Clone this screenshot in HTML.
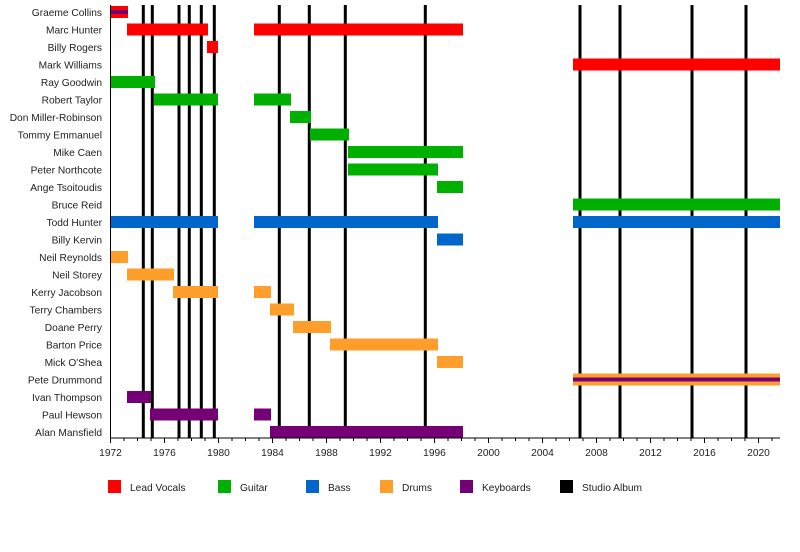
<!DOCTYPE html><html><head><style>body{margin:0;background:#fff}text{font-family:"Liberation Sans",sans-serif;font-size:10.2px;fill:#222}</style></head><body>
<svg width="800" height="547" xmlns="http://www.w3.org/2000/svg">
<g id="lines" fill="#000"></g><g id="bars"></g><g id="ax"></g>
</svg>
<script>
const X=y=>110.5+(y-1972)*13.5;
const C={r:"#ff0000",g:"#00b000",b:"#0066cc",o:"#ff9e2a",p:"#750075"};
const rows=[["Graeme Collins",[[110,128,"r","p"]]],["Marc Hunter",[[127,208,"r"],[254,463,"r"]]],["Billy Rogers",[[207,218,"r"]]],["Mark Williams",[[573,780,"r"]]],["Ray Goodwin",[[110,155,"g"]]],["Robert Taylor",[[154,218,"g"],[254,291,"g"]]],["Don Miller-Robinson",[[290,311,"g"]]],["Tommy Emmanuel",[[310,349,"g"]]],["Mike Caen",[[348,463,"g"]]],["Peter Northcote",[[348,438,"g"]]],["Ange Tsoitoudis",[[437,463,"g"]]],["Bruce Reid",[[573,780,"g"]]],["Todd Hunter",[[110,218,"b"],[254,438,"b"],[573,780,"b"]]],["Billy Kervin",[[437,463,"b"]]],["Neil Reynolds",[[110,128,"o"]]],["Neil Storey",[[127,174,"o"]]],["Kerry Jacobson",[[173,218,"o"],[254,271,"o"]]],["Terry Chambers",[[270,294,"o"]]],["Doane Perry",[[293,331,"o"]]],["Barton Price",[[330,438,"o"]]],["Mick O'Shea",[[437,463,"o"]]],["Pete Drummond",[[573,780,"o","p"]]],["Ivan Thompson",[[127,151,"p"]]],["Paul Hewson",[[150,218,"p"],[254,271,"p"]]],["Alan Mansfield",[[270,463,"p"]]]];
let L="",B="",A="";
[143.3,152.3,179,189.3,201.3,214.3,279.3,309.3,345.3,425.3,580,620,692,746].forEach(x=>L+=`<rect x="${x-1.5}" y="5" width="3" height="433"/>`);
rows.forEach((r,i)=>{const c=12+17.5*i;
B+=`<text x="102" y="${c+4}" text-anchor="end">${r[0].replace("'","&#39;")}</text>`;
r[1].forEach(b=>{B+=`<rect x="${b[0]}" y="${c-6}" width="${b[1]-b[0]}" height="12" fill="${C[b[2]]}"/>`;if(b[3])B+=`<rect x="${b[0]}" y="${c-2}" width="${b[1]-b[0]}" height="4" fill="${C[b[3]]}"/>`;});});
A+=`<rect x="110" y="5" width="1" height="433" fill="#000"/><rect x="110" y="437.5" width="670" height="1" fill="#000"/>`;
for(let y=1972;y<=2021;y++){const x=X(y),m=y%4==0;A+=`<rect x="${x-0.5}" y="438" width="1" height="${m?5:3}" fill="#000"/>`;if(m)A+=`<text x="${x}" y="456" text-anchor="middle">${y}</text>`;}
[["Lead Vocals","r",108],["Guitar","g",218],["Bass","b",306],["Drums","o",380],["Keyboards","p",460],["Studio Album","#000",560]].forEach(l=>{A+=`<rect x="${l[2]}" y="480" width="13" height="13" fill="${C[l[1]]||l[1]}"/><text x="${l[2]+22}" y="491">${l[0]}</text>`;});
document.getElementById("lines").innerHTML=L;document.getElementById("bars").innerHTML=B;document.getElementById("ax").innerHTML=A;
</script>
</body></html>
